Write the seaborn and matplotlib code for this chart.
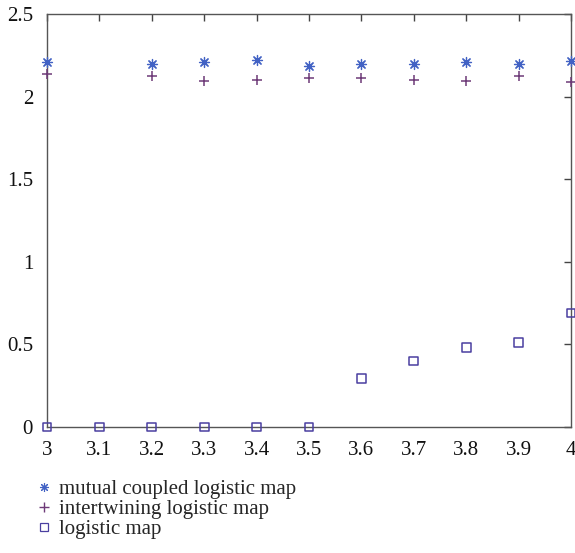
import numpy as np
import pandas as pd
import matplotlib
matplotlib.use("Agg")
import matplotlib.pyplot as plt
import seaborn as sns
from matplotlib.lines import Line2D

# Parameter r and the values measured for each map
r_mutual = [3.0, 3.2, 3.3, 3.4, 3.5, 3.6, 3.7, 3.8, 3.9, 4.0]
mutual = [2.21, 2.197, 2.21, 2.22, 2.185, 2.197, 2.20, 2.21, 2.20, 2.215]

r_inter = [3.0, 3.2, 3.3, 3.4, 3.5, 3.6, 3.7, 3.8, 3.9, 4.0]
inter = [2.137, 2.125, 2.094, 2.10, 2.11, 2.11, 2.10, 2.094, 2.125, 2.09]

r_logistic = [3.0, 3.1, 3.2, 3.3, 3.4, 3.5, 3.6, 3.7, 3.8, 3.9, 4.0]
logistic = [0.0, 0.0, 0.0, 0.0, 0.0, 0.0, 0.295, 0.40, 0.48, 0.51, 0.69]

labels = ["mutual coupled logistic map", "intertwining logistic map", "logistic map"]
x_ticks = [3.0, 3.1, 3.2, 3.3, 3.4, 3.5, 3.6, 3.7, 3.8, 3.9, 4.0]
x_tick_labels = ["3", "3.1", "3.2", "3.3", "3.4", "3.5", "3.6", "3.7", "3.8", "3.9", "4"]
y_ticks = [0, 0.5, 1, 1.5, 2, 2.5]
y_tick_labels = ["0", "0.5", "1", "1.5", "2", "2.5"]

sns.set_style("white")
plt.rcParams["font.family"] = ["Liberation Serif", "DejaVu Serif"]

c_mutual = "#4262c4"
c_inter = "#6e3a78"
c_logistic = "#4a3fa0"
asterisk = (8, 2, 0)

fig = plt.figure(figsize=(5.75, 5.53), dpi=100)
ax = fig.add_axes([0.0817, 0.2278, 0.9113, 0.747])

sns.scatterplot(x=r_mutual, y=mutual, ax=ax, marker=asterisk, s=52,
                color=c_mutual, linewidth=0.9, clip_on=False, zorder=3)
sns.scatterplot(x=r_inter, y=inter, ax=ax, marker="+", s=62,
                color=c_inter, linewidth=1.1, clip_on=False, zorder=3)
sns.scatterplot(x=r_logistic, y=logistic, ax=ax, marker="s", s=40,
                facecolors="none", edgecolor=c_logistic, linewidth=1.1,
                clip_on=False, zorder=3)

ax.set_xlim(3.0, 4.0)
ax.set_ylim(0, 2.5)
ax.set_xticks(x_ticks)
ax.set_xticklabels(x_tick_labels)
ax.set_yticks(y_ticks)
ax.set_yticklabels(y_tick_labels)
ax.tick_params(direction="in", length=5, width=1, color="#444444",
               top=True, right=True, labelsize=15, labelcolor="#111111")
ax.tick_params(axis="x", pad=10)
ax.tick_params(axis="y", pad=10)
for sp in ax.spines.values():
    sp.set_color("#555555")
    sp.set_linewidth(1.0)
    sp.set_visible(True)

handles = [
    Line2D([], [], linestyle="none", marker=asterisk, markersize=6.5,
           color=c_mutual, markeredgewidth=0.8),
    Line2D([], [], linestyle="none", marker="+", markersize=7.5,
           color=c_inter, markeredgewidth=1.0),
    Line2D([], [], linestyle="none", marker="s", markersize=5.5,
           markerfacecolor="none", markeredgecolor=c_logistic, markeredgewidth=0.9),
]
fig.legend(handles, labels, loc="upper left", bbox_to_anchor=(0.065, 0.133),
           frameon=False, fontsize=15, handlelength=0.6, handletextpad=0.45,
           labelspacing=0.03, borderpad=0.0, borderaxespad=0)

fig.savefig("out.png", dpi=100)
